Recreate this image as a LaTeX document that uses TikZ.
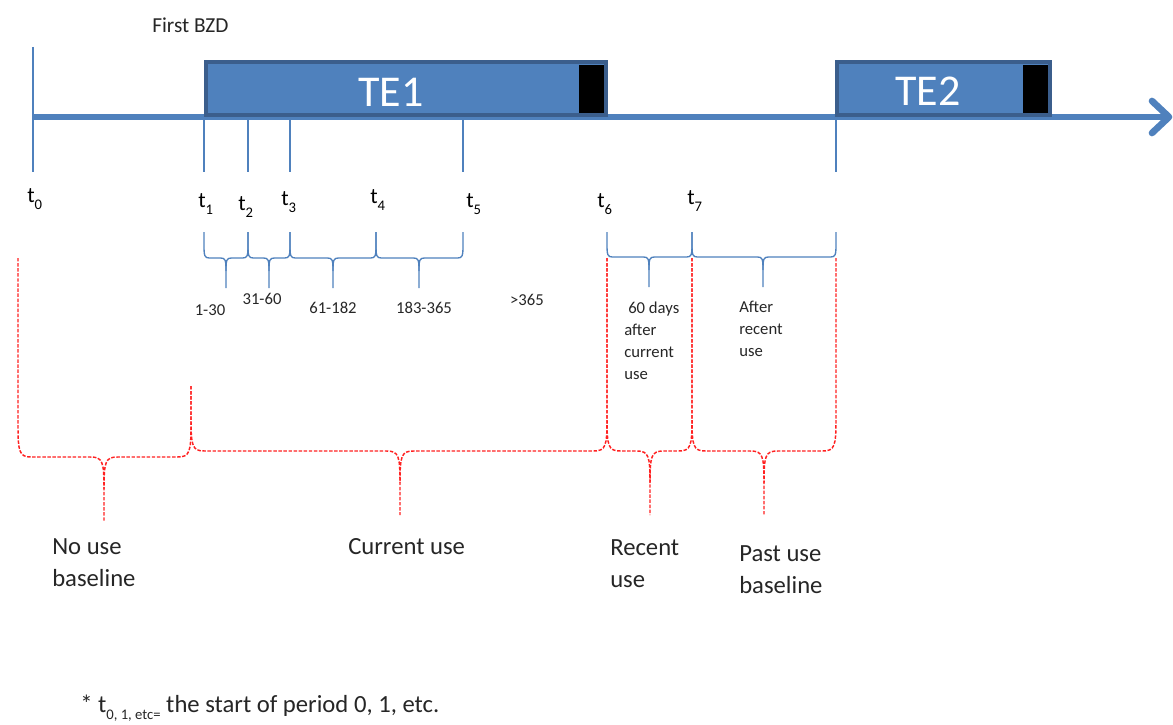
\documentclass[tikz,border=0pt]{standalone}
\usepackage{fontspec}
\setmainfont{Carlito}
\definecolor{tlblue}{HTML}{4F81BD}
\definecolor{tldark}{HTML}{3B5E8C}
\definecolor{bred}{HTML}{FF2020}
\newcommand\tlab[1]{t\raisebox{-0.32em}{\fontsize{11}{11}\selectfont #1}}
% brace: style, x1, top1, x2, top2, mid, tipx, tipy, h
\newcommand\mybrace[9]{%
  \pgfmathsetmacro\brr{#9*0.42}%
  \draw[#1] (#2,#3) -- (#2,#6-#9) .. controls (#2,#6-0.15*#9) and (#2+0.1*\brr,#6) .. (#2+\brr,#6)
     -- (#7-\brr,#6) .. controls (#7-0.1*\brr,#6) and (#7,#6+0.15*#9) .. (#7,#6+#9) -- (#7,#8);
  \draw[#1] (#4,#5) -- (#4,#6-#9) .. controls (#4,#6-0.15*#9) and (#4-0.1*\brr,#6) .. (#4-\brr,#6)
     -- (#7+\brr,#6) .. controls (#7+0.1*\brr,#6) and (#7,#6+0.15*#9) .. (#7,#6+#9);
}
\begin{document}
\begin{tikzpicture}[x=0.75pt,y=-0.75pt,
  tick/.style={draw=tlblue,line width=1pt},
  axis/.style={draw=tlblue,line width=5pt},
  tebox/.style={fill=tlblue,draw=tldark,line width=3pt},
  endbox/.style={fill=black},
  bluebrace/.style={draw=tlblue,line width=1pt},
  redbrace/.style={draw=bred,line width=1.1pt,dash pattern=on 2.6pt off 1.2pt},
  telabel/.style={text=white,font=\fontsize{33}{36}\selectfont,inner sep=0pt},
  tname/.style={font=\fontsize{16.5}{18}\selectfont,inner sep=0pt,anchor=base west},
  small/.style={font=\fontsize{12.5}{16.5}\selectfont,inner sep=0pt,text=black!85},
  big/.style={font=\fontsize{18.5}{24}\selectfont,inner sep=0pt,anchor=north west,align=left,text=black!85}
]
\useasboundingbox (0,0) rectangle (1173,724);

% ticks
\coordinate (c0) at (33,117);
\coordinate (c0top) at (33,47);
\coordinate (c0bot) at (33,172);
\draw[tick] (c0top) -- (c0bot);
\foreach \x/\n in {204/1,248/2,290/3,463/5,836/8}{
  \coordinate (tk\n) at (\x,117);
  \coordinate (tb\n) at (\x,172);
  \draw[tick] (tk\n) -- (tb\n);
}

% timeline
\coordinate (tend) at (1166,117);
\draw[axis] (c0) -- (tend);
\coordinate (arA) at (1152,101);
\coordinate (arB) at (1169,117);
\coordinate (arC) at (1152,133);
\draw[draw=tlblue,line width=5pt,line cap=round,line join=round] (arA) -- (arB) -- (arC);

% boxes
\draw[tebox] (206,62) rectangle (606,115);
\fill[endbox] (579,65) rectangle (604,113);
\node[telabel] (te1) at (391,92) {TE1};
\draw[tebox] (837,62) rectangle (1050,115);
\fill[endbox] (1023,65) rectangle (1048,113);
\node[telabel] (te2) at (928,91) {TE2};

\node[font=\fontsize{16}{18}\selectfont,inner sep=0pt,anchor=base west,text=black!85] (bzd) at (152,33) {First BZD};

% t labels
\node[tname] (l0) at (27,202) {\tlab{0}};
\node[tname] (l1) at (198,207) {\tlab{1}};
\node[tname] (l2) at (238,210) {\tlab{2}};
\node[tname] (l3) at (281,205) {\tlab{3}};
\node[tname] (l4) at (370,203) {\tlab{4}};
\node[tname] (l5) at (466,207) {\tlab{5}};
\node[tname] (l6) at (597,207) {\tlab{6}};
\node[tname] (l7) at (687,204) {\tlab{7}};

% blue braces
\mybrace{bluebrace}{204}{232}{248}{232}{258}{226}{288}{13}
\mybrace{bluebrace}{248}{232}{290}{232}{258}{269}{288}{13}
\mybrace{bluebrace}{290}{232}{376}{232}{258}{333}{288}{13}
\mybrace{bluebrace}{376}{232}{463}{232}{258}{419}{288}{13}
\mybrace{bluebrace}{607}{232}{692}{232}{257}{649}{287}{13}
\mybrace{bluebrace}{692}{232}{836}{232}{257}{763}{287}{13}

\node[small] (p1) at (210,310) {1-30};
\node[small] (p2) at (262,299) {31-60};
\node[small] (p3) at (333,308) {61-182};
\node[small] (p4) at (424,308) {183-365};
\node[small] (p5) at (527,300) {>365};
\node[small,anchor=north west,align=left] (p6) at (624,302) {\hspace*{3pt}60 days\\after\\current\\use};
\node[small,anchor=north west,align=left] (p7) at (739,301) {After\\recent\\use};

% red braces
\mybrace{redbrace}{18}{258}{191}{386}{457}{104}{522}{32}
\mybrace{redbrace}{191}{386}{607}{258}{451}{400}{515}{32}
\mybrace{redbrace}{607}{258}{692}{258}{451}{650}{515}{32}
\mybrace{redbrace}{692}{258}{836}{258}{451}{764}{515}{32}

% bottom labels
\node[big] (b1) at (52,538) {No use\\baseline};
\node[big] (b2) at (348,538) {Current use};
\node[big] (b3) at (610,539) {Recent\\use};
\node[big] (b4) at (739,545) {Past use\\baseline};

\node[font=\fontsize{18.5}{22}\selectfont,inner sep=0pt,anchor=base west,text=black!85] (foot) at (80,712)
  {* t\raisebox{-0.3em}{\fontsize{11}{11}\selectfont 0, 1, etc=} the start of period 0, 1, etc.};
\end{tikzpicture}
\end{document}
